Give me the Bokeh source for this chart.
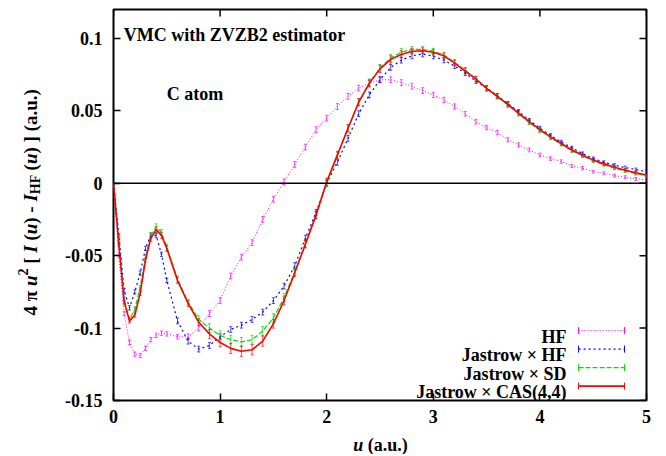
import math
from bokeh.plotting import figure
from bokeh.layouts import row, column
from bokeh.models import (Range1d, FixedTicker, Span, Label, Whisker,
                          TeeHead, Arrow, ColumnDataSource)
from bokeh.embed import file_html
from bokeh.resources import INLINE

# ---------------- data ----------------
u = [0.0, 0.05, 0.1, 0.15, 0.2, 0.25, 0.3, 0.35, 0.4, 0.45, 0.5,
     0.6, 0.7, 0.8, 0.9, 1.0, 1.1, 1.2, 1.3, 1.4, 1.5,
     1.6, 1.7, 1.8, 1.9, 2.0, 2.1, 2.2, 2.3, 2.4, 2.5,
     2.6, 2.7, 2.8, 2.9, 3.0, 3.1, 3.2, 3.3, 3.4, 3.5,
     3.6, 3.7, 3.8, 3.9, 4.0, 4.1, 4.2, 4.3, 4.4, 4.5,
     4.6, 4.7, 4.8, 4.9, 5.0]

hf = [0.0, -0.050, -0.090, -0.110, -0.118, -0.119, -0.114, -0.108, -0.105, -0.1035, -0.104,
      -0.106, -0.106, -0.100, -0.090, -0.081, -0.064, -0.051, -0.041, -0.025, -0.011,
      0.001, 0.013, 0.025, 0.037, 0.045, 0.053, 0.060, 0.0657, 0.069, 0.0715,
      0.0715, 0.0695, 0.067, 0.064, 0.061, 0.0575, 0.053, 0.048, 0.0425, 0.0385,
      0.035, 0.030, 0.0265, 0.023, 0.0195, 0.017, 0.015, 0.012, 0.0104, 0.008,
      0.0069, 0.0053, 0.0042, 0.003, 0.0023]
hf_err = [0.0, 0.001, 0.0015, 0.0015, 0.0015, 0.0015, 0.0015, 0.0015, 0.0015, 0.0015, 0.0015,
          0.0015, 0.002, 0.002, 0.002, 0.002, 0.002, 0.002, 0.002, 0.002, 0.002,
          0.002, 0.002, 0.002, 0.002, 0.002, 0.002, 0.002, 0.002, 0.002, 0.002,
          0.002, 0.002, 0.002, 0.002, 0.0018, 0.0018, 0.0018, 0.0016, 0.0016, 0.0015,
          0.0015, 0.0014, 0.0014, 0.0013, 0.0013, 0.0012, 0.0012, 0.0011, 0.0011, 0.001,
          0.001, 0.001, 0.001, 0.001, 0.001]

jhf = [0.0, -0.036, -0.074, -0.086, -0.075, -0.062, -0.045, -0.036, -0.036, -0.049, -0.067,
       -0.095, -0.109, -0.1145, -0.112, -0.106, -0.101, -0.098, -0.094, -0.089, -0.081,
       -0.071, -0.057, -0.038, -0.020, 0.0, 0.0145, 0.031, 0.048, 0.061, 0.0715,
       0.080, 0.085, 0.088, 0.0893, 0.0877, 0.085, 0.081, 0.076, 0.0705, 0.0658,
       0.0605, 0.055, 0.0495, 0.0435, 0.038, 0.033, 0.0285, 0.0245, 0.0205, 0.0172,
       0.0145, 0.0125, 0.0108, 0.0095, 0.008]
jhf_err = [0.0, 0.001, 0.0015, 0.0015, 0.0015, 0.0015, 0.0015, 0.0015, 0.0015, 0.0015, 0.0015,
           0.002, 0.002, 0.002, 0.002, 0.002, 0.002, 0.002, 0.002, 0.002, 0.002,
           0.002, 0.002, 0.002, 0.002, 0.002, 0.002, 0.002, 0.002, 0.002, 0.002,
           0.002, 0.002, 0.002, 0.002, 0.0018, 0.0018, 0.0018, 0.0016, 0.0016, 0.0015,
           0.0015, 0.0014, 0.0014, 0.0013, 0.0013, 0.0012, 0.0012, 0.0011, 0.0011, 0.001,
           0.001, 0.001, 0.001, 0.001, 0.001]

jsd = [0.0, -0.041, -0.080, -0.094, -0.087, -0.072, -0.051, -0.036, -0.030, -0.034, -0.044,
       -0.066, -0.082, -0.094, -0.100, -0.105, -0.108, -0.1095, -0.108, -0.102, -0.093,
       -0.079, -0.061, -0.042, -0.022, 0.0, 0.019, 0.038, 0.056, 0.0695, 0.0795,
       0.0865, 0.0905, 0.0925, 0.0925, 0.0912, 0.0885, 0.0835, 0.078, 0.072, 0.0655,
       0.0598, 0.054, 0.048, 0.042, 0.0365, 0.0315, 0.027, 0.0225, 0.019, 0.0155,
       0.0128, 0.0105, 0.0085, 0.0066, 0.005]
jsd_err = [0.0, 0.001, 0.0015, 0.0015, 0.0015, 0.0015, 0.0015, 0.002, 0.002, 0.002, 0.002,
           0.002, 0.002, 0.0025, 0.003, 0.003, 0.003, 0.003, 0.003, 0.003, 0.003,
           0.003, 0.0025, 0.0025, 0.0025, 0.0025, 0.0025, 0.0025, 0.0025, 0.0025, 0.0025,
           0.0025, 0.0025, 0.002, 0.002, 0.002, 0.002, 0.002, 0.002, 0.0018, 0.0018,
           0.0016, 0.0016, 0.0015, 0.0015, 0.0014, 0.0014, 0.0013, 0.0013, 0.0012, 0.0012,
           0.0011, 0.0011, 0.001, 0.001, 0.001]

jcas = [0.0, -0.042, -0.082, -0.095, -0.091, -0.076, -0.053, -0.038, -0.032, -0.036, -0.045,
        -0.067, -0.083, -0.096, -0.104, -0.110, -0.114, -0.116, -0.115, -0.109, -0.097,
        -0.081, -0.062, -0.042, -0.022, 0.001, 0.0196, 0.038, 0.056, 0.069, 0.079,
        0.0855, 0.089, 0.0912, 0.0915, 0.0905, 0.088, 0.083, 0.0775, 0.072, 0.0655,
        0.060, 0.0545, 0.0485, 0.0426, 0.037, 0.032, 0.0275, 0.023, 0.0195, 0.016,
        0.0134, 0.011, 0.009, 0.0073, 0.0057]
jcas_err = [0.0, 0.001, 0.0015, 0.0015, 0.0015, 0.0015, 0.0015, 0.002, 0.002, 0.002, 0.002,
            0.002, 0.002, 0.0025, 0.003, 0.003, 0.0035, 0.0035, 0.0035, 0.0035, 0.003,
            0.003, 0.0025, 0.0025, 0.0025, 0.0025, 0.0025, 0.0025, 0.0025, 0.0025, 0.0025,
            0.0025, 0.0025, 0.002, 0.002, 0.002, 0.002, 0.002, 0.002, 0.0018, 0.0018,
            0.0016, 0.0016, 0.0015, 0.0015, 0.0014, 0.0014, 0.0013, 0.0013, 0.0012, 0.0012,
            0.0011, 0.0011, 0.001, 0.001, 0.001]

x_ticks = [0, 1, 2, 3, 4, 5]
x_tick_labels = ["0", "1", "2", "3", "4", "5"]
y_ticks = [-0.15, -0.1, -0.05, 0.0, 0.05, 0.1]
y_tick_labels = ["-0.15", "-0.1", "-0.05", "0", "0.05", "0.1"]

series_names = ["HF", "Jastrow \u00d7 HF", "Jastrow \u00d7 SD", "Jastrow \u00d7 CAS(4,4)"]
series_values = [hf, jhf, jsd, jcas]
series_errors = [hf_err, jhf_err, jsd_err, jcas_err]

# ---------------- styles / layout ----------------
colors = ["#ff00ff", "#0000ff", "#00dd00", "#ff0000"]
dashes = ["1 2", "2 3", "5 2", "solid"]
widths = [1.0, 1.2, 1.2, 1.6]
FONT = "Liberation Serif"
FS = 18
X0, X1 = 0, 5
Y0, Y1 = -0.15, 0.12

YW = 58          # width of the strip holding the vertical axis title
MAIN_W, MAIN_H = 602, 431
XH = 23          # height of the strip holding the horizontal axis title

p = figure(width=MAIN_W, height=MAIN_H, output_backend="svg", toolbar_location=None,
           x_range=Range1d(X0, X1), y_range=Range1d(Y0, Y1),
           min_border_left=55, min_border_right=14, min_border_top=9,
           min_border_bottom=31)
p.grid.visible = False
p.outline_line_color = "black"
p.outline_line_width = 2
p.background_fill_color = "white"
p.border_fill_color = "white"

for ax in (p.xaxis[0], p.yaxis[0]):
    ax.axis_line_color = None
    ax.major_tick_in = 7
    ax.major_tick_out = 0
    ax.major_tick_line_width = 1.5
    ax.major_tick_line_color = "black"
    ax.minor_tick_line_color = None
    ax.major_label_text_font = FONT
    ax.major_label_text_font_style = "bold"
    ax.major_label_text_color = "black"
    ax.major_label_text_font_size = f"{FS}px"

p.xaxis.ticker = FixedTicker(ticks=x_ticks)
p.yaxis.ticker = FixedTicker(ticks=y_ticks)
p.xaxis.major_label_overrides = dict(zip(x_ticks, x_tick_labels))
p.yaxis.major_label_overrides = dict(zip(y_ticks, y_tick_labels))
p.xaxis.major_label_standoff = 9
p.yaxis.major_label_standoff = 11

# mirrored inward ticks on top and right edges (gnuplot style)
p.ray(x=x_ticks, y=[Y1] * len(x_ticks), length=7, length_units="screen",
      angle=-math.pi / 2, line_color="black", line_width=1.5)
p.ray(x=[X1] * len(y_ticks), y=y_ticks, length=7, length_units="screen",
      angle=math.pi, line_color="black", line_width=1.5)

# zero line
p.add_layout(Span(location=0, dimension="width", line_color="black", line_width=1.5))

# curves with error bars
for name, vals, errs, c, d, w in zip(series_names, series_values, series_errors,
                                      colors, dashes, widths):
    src = ColumnDataSource(dict(u=u, v=vals,
                                lo=[a - b for a, b in zip(vals, errs)],
                                hi=[a + b for a, b in zip(vals, errs)]))
    p.add_layout(Whisker(source=src, base="u", lower="lo", upper="hi", dimension="height",
                         line_color=c, line_width=1, line_alpha=0.7,
                         upper_head=TeeHead(size=3, line_color=c, line_width=1, line_alpha=0.7),
                         lower_head=TeeHead(size=3, line_color=c, line_width=1, line_alpha=0.7)))
    p.line("u", "v", source=src, line_color=c, line_dash=d, line_width=w)


def lab(fig, x, y, text, style="bold", size=FS, align="left", xo=0, yo=0, angle=0.0):
    fig.add_layout(Label(x=x, y=y, x_offset=xo, y_offset=yo, text=text, angle=angle,
                         text_font=FONT, text_font_style=style, text_font_size=f"{size}px",
                         text_color="black", text_align=align, text_baseline="alphabetic"))


lab(p, 0.096, 0.1025, "VMC with ZVZB2 estimator")
lab(p, 0.5, 0.0615, "C atom")

# legend (gnuplot style: text right-aligned, sample to its right)
leg_text_x = 4.25
leg_line_x0, leg_line_x1 = 4.363, 4.794
leg_rows = [-0.1017, -0.1145, -0.1273, -0.1401]
for name, c, d, w, yrow in zip(series_names, colors, dashes, widths, leg_rows):
    lab(p, leg_text_x, yrow, name, align="right", yo=-6)
    p.add_layout(Arrow(x_start=leg_line_x0, y_start=yrow, x_end=leg_line_x1, y_end=yrow,
                       line_color=c, line_dash=d, line_width=w,
                       start=TeeHead(size=7, line_color=c, line_width=1),
                       end=TeeHead(size=7, line_color=c, line_width=1)))

# ---------------- axis titles (mixed italic / sub / superscript) ----------------
W_B = {'4': 500, ' ': 250, '\u03c0': 549, '2': 500, '[': 333, ']': 333, '(': 333, ')': 333,
       '-': 333, 'H': 778, 'F': 611, 'a': 500, '.': 250, 'u': 556}
W_BI = {'u': 556, 'I': 389, ' ': 250}


def width(text, style, size):
    tbl = W_BI if style == "bold italic" else W_B
    return sum(tbl.get(ch, 500) for ch in text) * size / 1000.0


def strip(w, h):
    f = figure(width=w, height=h, output_backend="svg", toolbar_location=None,
               x_range=Range1d(0, w), y_range=Range1d(0, h),
               x_axis_location=None, y_axis_location=None,
               min_border=0, outline_line_color=None)
    f.grid.visible = False
    f.background_fill_color = "white"
    f.border_fill_color = "white"
    return f


def pieces_run(pieces, size):
    """(stripped text, style, font size, shift, offset along the run) for each piece"""
    out = []
    pos = 0.0
    for t, s, f, sh in pieces:
        fs = size * f
        lead = len(t) - len(t.lstrip(" "))
        out.append((t.strip(" "), s, round(fs), sh, pos + lead * 250 * fs / 1000.0))
        pos += width(t, s, fs)
    return out, pos


yfig = strip(YW, MAIN_H)
YFS = 19
ylab_pieces = [("4 \u03c0 ", "bold", 1.0, 0), ("u", "bold italic", 1.0, 0),
               ("2", "bold", 0.72, -8), (" [ ", "bold", 1.0, 0), ("I", "bold italic", 1.0, 0),
               (" (", "bold", 1.0, 0), ("u", "bold italic", 1.0, 0), (") - ", "bold", 1.0, 0),
               ("I", "bold italic", 1.0, 0), ("HF", "bold", 0.72, 5), (" (", "bold", 1.0, 0),
               ("u", "bold italic", 1.0, 0), (") ] (a.u.)", "bold", 1.0, 0)]
run, total = pieces_run(ylab_pieces, YFS)
for t, s, fs, sh, off in run:
    lab(yfig, 30, MAIN_H - 212.5, t, style=s, size=fs, xo=sh, yo=off - total / 2.0,
        angle=math.pi / 2)

xfig = strip(YW + MAIN_W, XH)
xlab_pieces = [("u", "bold italic", 1.0, 0), (" (a.u.)", "bold", 1.0, 0)]
run, total = pieces_run(xlab_pieces, FS)
for t, s, fs, sh, off in run:
    lab(xfig, 380 - total / 2.0 + off, 10, t, style=s, size=fs)

layout = column(row(yfig, p), xfig)
open("out.html", "w").write(file_html(layout, INLINE))
